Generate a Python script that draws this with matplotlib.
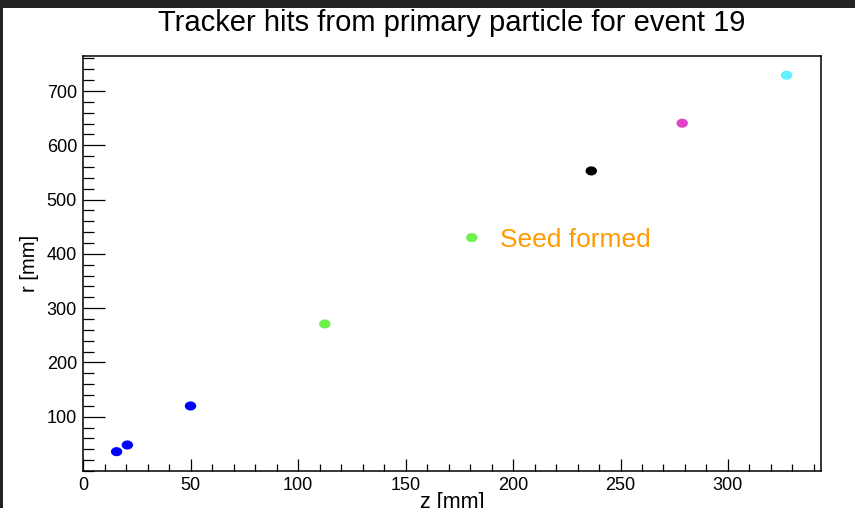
import matplotlib
matplotlib.use("Agg")
import matplotlib.pyplot as plt
from matplotlib.path import Path
from matplotlib.patches import Rectangle
from matplotlib.ticker import MultipleLocator
import numpy as np

# Tracker hits of the primary particle (z, r in mm), coloured by detector layer
hit_z = [15.5, 20.5, 49.9, 112.4, 180.8, 236.4, 278.7, 327.3]
hit_r = [35.6, 47.9, 119.8, 270.9, 429.9, 552.8, 640.7, 729.1]
hit_colors = ["#0000ff", "#0000ff", "#0000ff", "#6ef04e", "#6ef04e",
              "#000000", "#e044c8", "#62f0ff"]

title_text = "Tracker hits from primary particle for event 19"
annotation_text = "Seed formed"
annotation_pos = (193.9, 413.2)

plt.rcParams["font.family"] = ["Liberation Sans", "DejaVu Sans"]

fig = plt.figure(figsize=(8.55, 5.08), dpi=100)
fig.patch.set_facecolor("white")

# dark window frame along the top and left edges
fig.patches.append(Rectangle((0, 1 - 8 / 508), 1, 8 / 508, transform=fig.transFigure,
                             facecolor="#232323", edgecolor="none", zorder=0))
fig.patches.append(Rectangle((0, 0), 3 / 855, 1, transform=fig.transFigure,
                             facecolor="#232323", edgecolor="none", zorder=0))

ax = fig.add_axes([83.3 / 855, 37 / 508, (821 - 83.3) / 855, (471 - 56) / 508])

# slightly flattened ellipse marker
theta = np.linspace(0, 2 * np.pi, 60)
ellipse = Path(np.column_stack([np.cos(theta), 0.8 * np.sin(theta)]), closed=True)

ax.scatter(hit_z, hit_r, c=hit_colors, marker=ellipse, s=8.2 ** 2,
           linewidths=0, zorder=3)

ax.text(annotation_pos[0], annotation_pos[1], annotation_text, color="#ff9a00",
        fontsize=19, ha="left", va="baseline")

ax.set_xlim(0, 343.3)
ax.set_ylim(0, 764.5)

ax.xaxis.set_major_locator(MultipleLocator(50))
ax.xaxis.set_minor_locator(MultipleLocator(10))
ax.yaxis.set_major_locator(MultipleLocator(100))
ax.yaxis.set_minor_locator(MultipleLocator(20))
ax.set_yticks([100, 200, 300, 400, 500, 600, 700])

ax.tick_params(axis="x", which="major", direction="in", length=8.6, width=0.9,
               pad=4.0, labelsize=13, top=False)
ax.tick_params(axis="x", which="minor", direction="in", length=5, width=0.9, top=False)
ax.tick_params(axis="y", which="major", direction="in", length=16, width=0.9,
               pad=4.5, labelsize=13, right=False)
ax.tick_params(axis="y", which="minor", direction="in", length=8, width=0.9, right=False)

for side in ["left", "bottom", "right", "top"]:
    ax.spines[side].set_linewidth(1.1)
    ax.spines[side].set_color("black")

ax.set_xlabel("z [mm]", fontsize=15.5, va="top")
ax.xaxis.set_label_coords(0.5, -0.05)
ax.set_ylabel("r [mm]", fontsize=14.5, va="center")
ax.yaxis.set_label_coords(-0.073, 0.5)

fig.text(452 / 855, 1 - 31 / 508, title_text, fontsize=21, ha="center",
         va="baseline")

fig.savefig("out.png", dpi=100)
